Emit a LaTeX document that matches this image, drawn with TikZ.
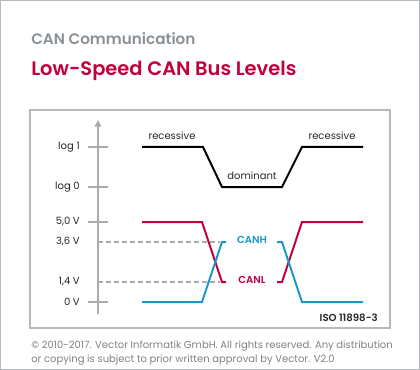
\documentclass[tikz,border=0pt]{standalone}
\usepackage{fontspec}
\setmainfont{Poppins}
\newfontfamily\semib{Poppins SemiBold}
\usetikzlibrary{arrows.meta}
\definecolor{ttlgray}{HTML}{8A9196}
\definecolor{vred}{HTML}{C2003B}
\definecolor{vblue}{HTML}{1A96C8}
\definecolor{boxgray}{HTML}{B5BABE}
\definecolor{axgray}{HTML}{A7ACB0}
\definecolor{txtgray}{HTML}{7C8287}
\tikzset{
  lbl/.style={font=\fontsize{7.5pt}{8pt}\selectfont, inner sep=0pt, text=black!85},
  ylbl/.style={lbl, anchor=east},
  tick/.style={draw=axgray, line width=0.9pt},
  dashln/.style={draw=axgray, line width=0.9pt, dash pattern=on 3.75pt off 2.25pt},
  sig/.style={line width=1.5pt, line join=miter},
  boldlbl/.style={inner sep=0pt, font=\fontsize{7.6pt}{9pt}\selectfont\semib},
}
\begin{document}
\begin{tikzpicture}[x=0.75pt,y=-0.75pt]
\useasboundingbox (0,0) rectangle (420,370);
\draw[boxgray, line width=1pt] (0.5,0.5) rectangle (419.5,369.5);
\draw[boxgray, line width=1.4pt] (30,110) rectangle (390,328);
% titles
\node[anchor=west, inner sep=0pt, text=ttlgray, font=\fontsize{11.4pt}{13pt}\selectfont\semib] (t1) at (31,39) {CAN Communication};
\node[anchor=west, inner sep=0pt, text=vred, font=\fontsize{14.6pt}{16pt}\selectfont\semib] (t2) at (31,71) {Low-Speed CAN Bus Levels};
% axis
\coordinate (axbot) at (98,314);
\coordinate (axtop) at (98,120);
\draw[axgray, line width=1.2pt, -{Triangle[length=5pt,width=5pt]}] (axbot) -- (axtop);
% ticks and labels
\foreach \n/\y/\t in {l1/147/log 1, l0/187/log 0, v5/222/{5,0 V}, v0/302/0 V}{
  \draw[tick] (88,\y) -- (108,\y);
  \node[ylbl] (\n) at (80,\y) {\t};
}
\node[ylbl] (v36) at (80,242) {3,6 V};
\node[ylbl] (v14) at (80,282) {1,4 V};
\draw[dashln] (98,242) -- (220,242);
\draw[dashln] (98,282) -- (220,282);
% logic signal
\draw[sig, black] (142,147) -- (203,147) -- (222,187) -- (282,187) -- (302,147) -- (363,147);
\node[lbl, anchor=south] (rec1) at (172,140) {recessive};
\node[lbl, anchor=south] (rec2) at (332,140) {recessive};
\node[lbl, anchor=south] (dom) at (252,180) {dominant};
% CANL (red)
\draw[sig, vred] (142,222) -- (202,222) -- (222,282) -- (226,282);
\draw[sig, vred] (277,282) -- (282,282) -- (302,222) -- (363,222);
% CANH (blue)
\draw[sig, vblue] (142,302) -- (202,302) -- (222,242) -- (226,242);
\draw[sig, vblue] (277,242) -- (282,242) -- (302,302) -- (363,302);
\node[boldlbl, text=vblue] (canh) at (252,240) {CANH};
\node[boldlbl, text=vred] (canl) at (252,280) {CANL};
\node[boldlbl, anchor=east, text=black!85] (iso) at (378,318) {ISO 11898-3};
% footer
\node[anchor=north west, inner sep=0pt, align=left, text=txtgray, font=\fontsize{7.5pt}{10.5pt}\selectfont] (copy) at (31,341) {© 2010-2017. Vector Informatik GmbH. All rights reserved. Any distribution\\or copying is subject to prior written approval by Vector. V2.0};
\end{tikzpicture}
\end{document}
